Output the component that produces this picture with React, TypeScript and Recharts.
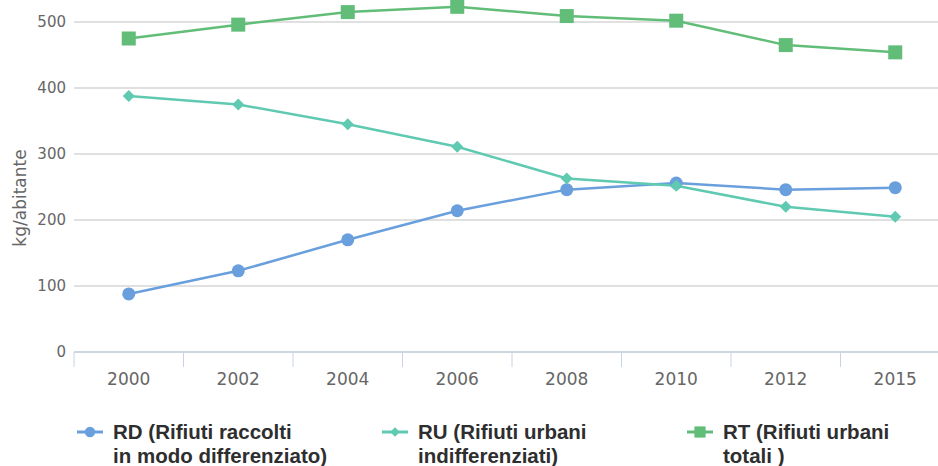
import React from 'react'
import { LineChart, Line, XAxis, YAxis, CartesianGrid } from 'recharts'

// anni e valori (kg/abitante)
const years = ['2000', '2002', '2004', '2006', '2008', '2010', '2012', '2015']
const rd = [88, 123, 170, 214, 246, 256, 246, 249]
const ru = [388, 375, 345, 311, 263, 252, 220, 205]
const rt = [475, 496, 515, 523, 509, 502, 465, 454]
const yTicks = [0, 100, 200, 300, 400, 500]

const seriesNames = ['RD', 'RU', 'RT']
const legendLines = [
  ['RD (Rifiuti raccolti', 'in modo differenziato)'],
  ['RU (Rifiuti urbani', 'indifferenziati)'],
  ['RT (Rifiuti urbani', 'totali )'],
]
const colors = ['#6a9fdd', '#5fcab1', '#61bd78']
const shapes = ['circle', 'diamond', 'square']

const data = years.map((y, i) => ({ year: y, RD: rd[i], RU: ru[i], RT: rt[i] }))

const CHART_W = 960
const CHART_H = 440
const MARGIN = { top: 0, right: 10, bottom: 4, left: 14 }
const Y_W = 60
const BAND = (CHART_W - MARGIN.left - MARGIN.right - Y_W) / years.length

function Marker({ shape, cx, cy, color, s = 1 }: { shape: string; cx: number; cy: number; color: string; s?: number }) {
  if (shape === 'circle') return <circle cx={cx} cy={cy} r={6.5 * s} fill={color} />
  if (shape === 'diamond') {
    const d = 6 * s
    return <path d={`M${cx},${cy - d}L${cx + d},${cy}L${cx},${cy + d}L${cx - d},${cy}Z`} fill={color} />
  }
  const h = 7 * s
  return <rect x={cx - h} y={cy - h} width={2 * h} height={2 * h} fill={color} />
}

const XTick = (props: any) => {
  const { x, y, payload } = props
  return (
    <g>
      <line x1={x - BAND / 2} x2={x - BAND / 2} y1={y} y2={y + 15} stroke="#c8d4e2" strokeWidth={1} />
      <text x={x} y={y + 33} textAnchor="middle" fill="#666" fontSize={17} fontFamily="DejaVu Sans">
        {payload.value}
      </text>
    </g>
  )
}

export default function App() {
  return (
    <div
      style={{
        position: 'absolute',
        left: 0,
        top: 0,
        width: 938,
        height: 466,
        overflow: 'hidden',
        background: '#fff',
      }}
    >
      <div style={{ position: 'absolute', left: 0, top: -44 }}>
        <LineChart width={CHART_W} height={CHART_H} data={data} margin={MARGIN}>
          <CartesianGrid vertical={false} stroke="#d6d6d6" strokeWidth={1.5} />
          <XAxis
            dataKey="year"
            scale="band"
            axisLine={{ stroke: '#c8d4e2', strokeWidth: 1.5 }}
            tickLine={false}
            tickSize={0}
            tickMargin={0}
            interval={0}
            height={40}
            tick={<XTick />}
          />
          <YAxis
            domain={[0, 600]}
            ticks={yTicks}
            width={Y_W}
            axisLine={false}
            tickLine={false}
            tick={{ fill: '#666', fontSize: 15, fontFamily: 'DejaVu Sans' }}
            label={({ viewBox }: any) => (
              <text
                x={viewBox.x + 6}
                y={viewBox.y + viewBox.height / 2 + 44}
                transform={`rotate(-90, ${viewBox.x + 6}, ${viewBox.y + viewBox.height / 2 + 44})`}
                textAnchor="middle"
                dominantBaseline="central"
                fill="#666"
                fontSize={17}
                fontFamily="DejaVu Sans"
              >
                kg/abitante
              </text>
            )}
          />
          {seriesNames.map((name, si) => (
            <Line
              key={name}
              dataKey={name}
              stroke={colors[si]}
              strokeWidth={2.5}
              isAnimationActive={false}
              dot={(p: any) => (
                <Marker key={`${name}-${p.index}`} shape={shapes[si]} cx={p.cx} cy={p.cy} color={colors[si]} />
              )}
              activeDot={false}
            />
          ))}
        </LineChart>
      </div>
      {legendLines.map((lines, i) => (
        <div
          key={i}
          style={{
            position: 'absolute',
            left: 77 + i * 305,
            top: 420,
            display: 'flex',
            fontFamily: 'Liberation Sans, Arial, sans-serif',
            fontWeight: 'bold',
            fontSize: 20.5,
            lineHeight: '24px',
            color: '#2e2e2e',
          }}
        >
          <svg width={26} height={24} style={{ flex: 'none', marginRight: 10 }}>
            <line x1={0} x2={26} y1={12} y2={12} stroke={colors[i]} strokeWidth={3} />
            <Marker shape={shapes[i]} cx={13} cy={12} color={colors[i]} s={0.8} />
          </svg>
          <div style={{ whiteSpace: 'nowrap' }}>
            {lines.map((l) => (
              <div key={l}>{l}</div>
            ))}
          </div>
        </div>
      ))}
    </div>
  )
}
